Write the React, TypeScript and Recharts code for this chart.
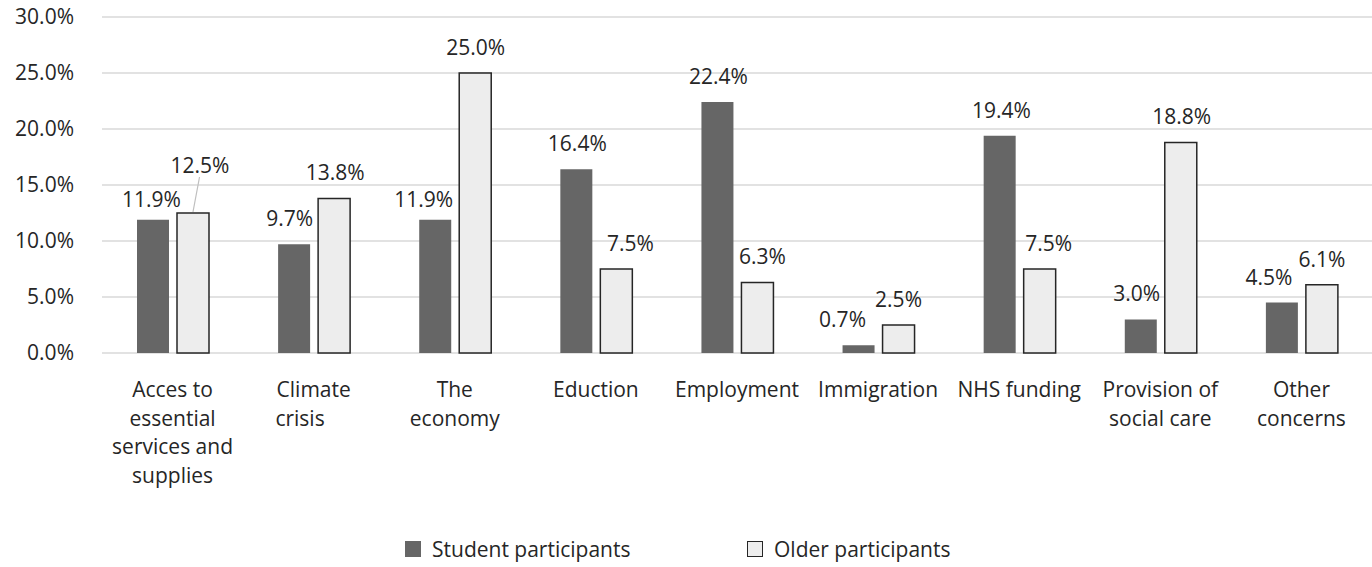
import React from 'react';
import { BarChart, Bar, XAxis, YAxis, CartesianGrid, Legend, LabelList } from 'recharts';

const categories = [
  'Acces to\nessential\nservices and\nsupplies',
  'Climate\ncrisis\u00A0\u00A0\u00A0\u00A0\u00A0',
  'The\neconomy',
  'Eduction',
  'Employment',
  'Immigration',
  'NHS funding',
  'Provision of\nsocial care',
  'Other\nconcerns',
];
const studentValues = [11.9, 9.7, 11.9, 16.4, 22.4, 0.7, 19.4, 3.0, 4.5];
const olderValues = [12.5, 13.8, 25.0, 7.5, 6.3, 2.5, 7.5, 18.8, 6.1];
const yTicks = [0, 5, 10, 15, 20, 25, 30];
const seriesNames = ['Student participants', 'Older participants'];

const data = categories.map((name, i) => ({
  name,
  student: studentValues[i],
  older: olderValues[i],
}));

const FONT = '"Open Sans", "Noto Sans", sans-serif';
const FS = 21;
const TEXT = '#262626';
const DARK = '#666666';
const LIGHT = '#EDEDED';

// label placement nudges (style only)
const studentNudge = [
  [-1.5, 5], [-4.5, 0], [-11.5, 5], [1, 0], [1, 0], [-16, 0], [1.7, 0], [-4, 0], [-13, 0],
];
const olderNudge = [
  [7, -22], [1, 0], [0.5, 0], [14, 0], [5, 0], [0, 0], [9, 0], [1, 0], [0, 0],
];

const makeLabel = (nudge: number[][], leader: boolean) => (props: any) => {
  const vb = props.viewBox ?? props;
  const x = vb.x ?? props.x;
  const y = vb.y ?? props.y;
  const width = vb.width ?? props.width;
  const idx = props.index ?? 0;
  const [dx, dy] = nudge[idx] || [0, 0];
  const cx = x + width / 2;
  const tx = cx + dx;
  const ty = y - 18 + dy;
  return (
    <g>
      {leader && dy < -10 ? (
        <line x1={cx} y1={y - 1} x2={tx - 0.5} y2={ty + 4} stroke="#BFBFBF" strokeWidth={1.2} />
      ) : null}
      <text x={tx} y={ty} textAnchor="middle" fill={TEXT} fontSize={FS} fontFamily={FONT}>
        {Number(props.value).toFixed(1)}%
      </text>
    </g>
  );
};

const CatTick = (props: any) => {
  const { x, y, payload } = props;
  const lines = String(payload.value).split('\n');
  return (
    <text x={x} y={y} textAnchor="middle" fill={TEXT} fontSize={FS} fontFamily={FONT} style={{ whiteSpace: 'pre' }}>
      {lines.map((l, i) => (
        <tspan key={i} x={x} dy={i === 0 ? 44 : 28.7}>
          {l}
        </tspan>
      ))}
    </text>
  );
};

const LegendContent = () => (
  <div style={{ display: 'flex', paddingLeft: 405, fontFamily: FONT, fontSize: FS, color: TEXT }}>
    <div style={{ width: 342, display: 'flex', alignItems: 'center' }}>
      <span style={{ width: 16, height: 16, background: DARK, display: 'inline-block', marginRight: 11 }} />
      <span>{seriesNames[0]}</span>
    </div>
    <div style={{ width: 344, display: 'flex', alignItems: 'center' }}>
      <span
        style={{
          width: 14,
          height: 14,
          background: LIGHT,
          border: '1px solid #262626',
          display: 'inline-block',
          marginRight: 11,
        }}
      />
      <span>{seriesNames[1]}</span>
    </div>
  </div>
);

export default function App() {
  return (
    <div style={{ position: 'absolute', left: 0, top: 0, width: 1372, height: 567, background: '#fff' }}>
      <BarChart
        width={1372}
        height={567}
        data={data}
        margin={{ top: 17, right: 0, left: 0, bottom: 94 }}
        barSize={32}
        barGap={8}
      >
        <CartesianGrid vertical={false} stroke="#D9D9D9" strokeWidth={1.5} />
        <XAxis
          dataKey="name"
          axisLine={false}
          tickLine={false}
          tickSize={0}
          tickMargin={0}
          interval={0}
          height={120}
          tick={<CatTick />}
        />
        <YAxis
          width={102}
          domain={[0, 30]}
          ticks={yTicks}
          axisLine={false}
          tickLine={false}
          tickSize={6}
          tickMargin={22}
          tickFormatter={(v: number) => `${v.toFixed(1)}%`}
          tick={{ fill: TEXT, fontSize: FS, fontFamily: FONT }}
        />
        <Legend
          layout="horizontal"
          verticalAlign="middle"
          align="center"
          wrapperStyle={{ position: 'absolute', top: 535, left: 0, width: 1372 }}
          content={<LegendContent />}
        />
        <Bar dataKey="student" name={seriesNames[0]} fill={DARK} isAnimationActive={false}>
          <LabelList dataKey="student" content={makeLabel(studentNudge, false)} />
        </Bar>
        <Bar dataKey="older" name={seriesNames[1]} fill={LIGHT} stroke="#262626" strokeWidth={1.5} isAnimationActive={false}>
          <LabelList dataKey="older" content={makeLabel(olderNudge, true)} />
        </Bar>
      </BarChart>
    </div>
  );
}
